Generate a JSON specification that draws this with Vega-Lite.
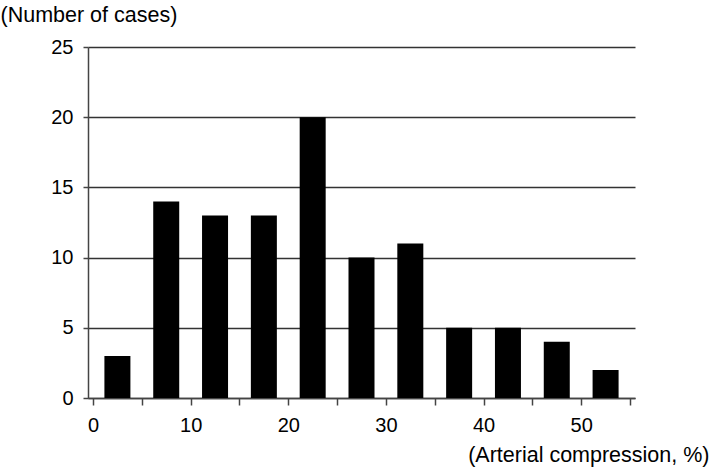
{
  "$schema": "https://vega.github.io/schema/vega-lite/v6.json",
  "autosize": {"type": "none"},
  "width": 547,
  "height": 351,
  "padding": {"left": 88, "top": 47, "right": 74, "bottom": 70},
  "background": "white",
  "config": {
    "view": {"stroke": null},
    "font": "Liberation Sans",
    "axis": {
      "labelFont": "Liberation Sans",
      "titleFont": "Liberation Sans",
      "labelFontSize": 20,
      "titleFontSize": 21.5,
      "labelColor": "black",
      "titleColor": "black",
      "titleFontWeight": "normal",
      "domainColor": "#444",
      "domainWidth": 1.5,
      "tickColor": "#444",
      "tickWidth": 1.5
    }
  },
  "data": {
    "values": [
      {"mid": 2.5, "cases": 3},
      {"mid": 7.5, "cases": 14},
      {"mid": 12.5, "cases": 13},
      {"mid": 17.5, "cases": 13},
      {"mid": 22.5, "cases": 20},
      {"mid": 27.5, "cases": 10},
      {"mid": 32.5, "cases": 11},
      {"mid": 37.5, "cases": 5},
      {"mid": 42.5, "cases": 5},
      {"mid": 47.5, "cases": 4},
      {"mid": 52.5, "cases": 2}
    ]
  },
  "mark": {"type": "bar", "color": "black", "size": 26},
  "encoding": {
    "x": {
      "field": "mid",
      "type": "quantitative",
      "scale": {"domain": [0, 55], "nice": false, "zero": true},
      "axis": {
        "values": [0, 5, 10, 15, 20, 25, 30, 35, 40, 45, 50, 55],
        "labelExpr": "datum.value % 10 == 0 ? datum.label : ''",
        "grid": false,
        "tickSize": 7,
        "labelPadding": 10,
        "labelFlush": false,
        "labelOverlap": false,
        "title": "(Arterial compression, %)",
        "titleAnchor": "end",
        "titleAlign": "right",
        "titleX": 621,
        "titleY": 57,
        "titleBaseline": "middle"
      }
    },
    "y": {
      "field": "cases",
      "type": "quantitative",
      "scale": {"domain": [0, 25], "nice": false},
      "axis": {
        "values": [0, 5, 10, 15, 20, 25],
        "grid": true,
        "gridColor": "#333",
        "gridWidth": 1.5,
        "tickSize": 5,
        "labelPadding": 10,
        "labelFlush": false,
        "title": "(Number of cases)",
        "titleAngle": 0,
        "titleAlign": "left",
        "titleBaseline": "middle",
        "titleX": -88,
        "titleY": -32
      }
    }
  }
}
